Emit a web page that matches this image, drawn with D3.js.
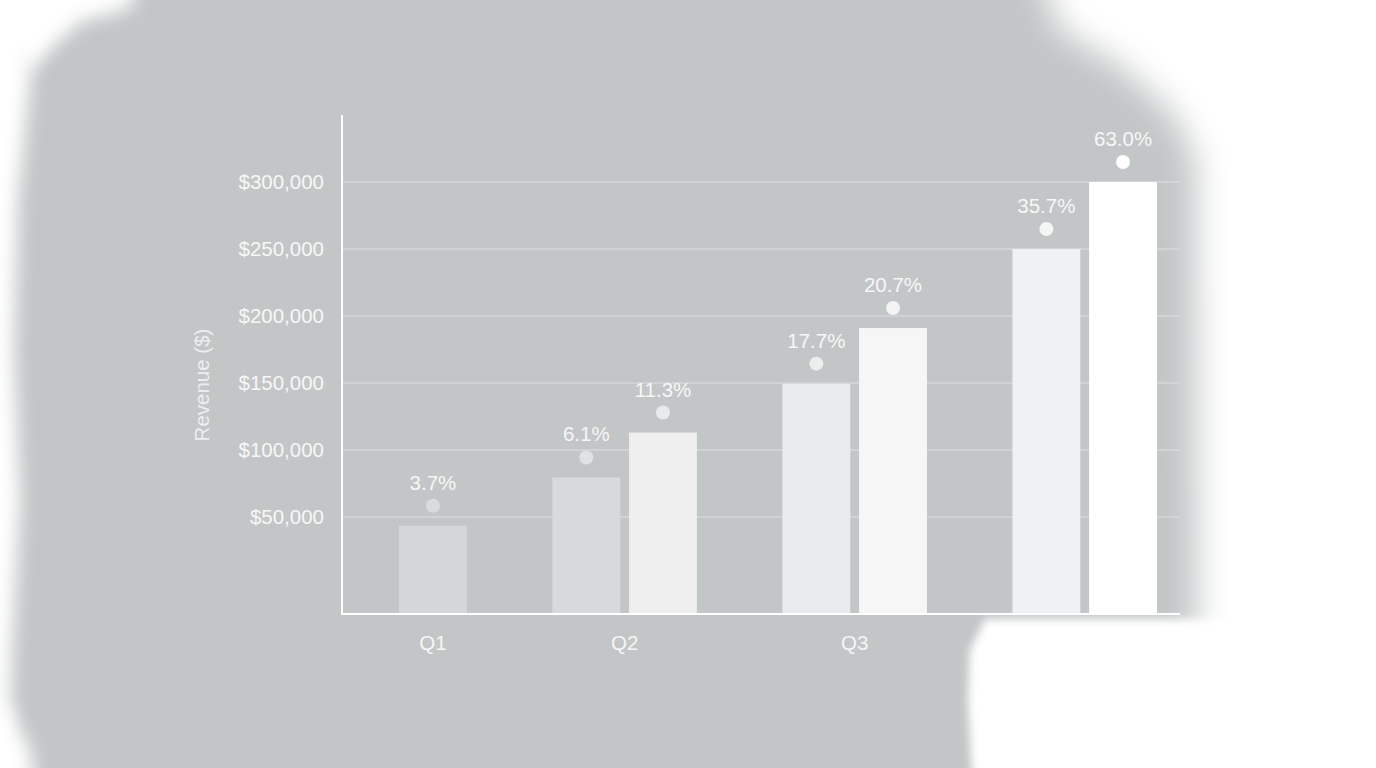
<!DOCTYPE html>
<html>
<head>
<meta charset="utf-8">
<script src="https://cdn.jsdelivr.net/npm/d3@7"></script>
<style>
  html, body { margin: 0; padding: 0; background: #ffffff; overflow: hidden; }
  #chart { width: 1376px; height: 768px; }
  text { font-family: "Liberation Sans", Arial, Helvetica, sans-serif; }
</style>
</head>
<body>
<div id="chart"></div>
<script>
// Chart data
var quarters = ["Q1", "Q2", "Q3", "Q4"];
var barQuarter = ["Q1", "Q2", "Q2", "Q3", "Q3", "Q4", "Q4"];
var revenue = [43500, 79500, 113000, 149500, 191000, 250000, 300000];
var growth = [3.7, 6.1, 11.3, 17.7, 20.7, 35.7, 63.0];
var yTicks = [50000, 100000, 150000, 200000, 250000, 300000];

// Styles per bar (they get lighter toward the right)
var barFill = ["#d3d7d8", "#d6dadb", "#efefef", "#e8ebec", "#f6f6f6", "#eff2f2", "#ffffff"];
var dotFill = ["#d9dcdd", "#dfe1e2", "#e9eaeb", "#eceeee", "#f3f3f3", "#f4f5f5", "#ffffff"];

var width = 1376, height = 768;
var plot = { left: 342, right: 1180, top: 115, bottom: 614 };

var svg = d3.select("#chart")
    .append("svg")
    .attr("width", width)
    .attr("height", height);

// Background: grey sheet with soft white brushed edges
var defs = svg.append("defs");
[["soft", 16], ["softer", 9], ["tight", 4]].forEach(function (f) {
    defs.append("filter").attr("id", f[0])
        .attr("filterUnits", "userSpaceOnUse")
        .attr("x", -100).attr("y", -100).attr("width", width + 200).attr("height", height + 200)
        .append("feGaussianBlur").attr("stdDeviation", f[1]);
});

svg.append("rect")
    .attr("width", width).attr("height", height)
    .attr("fill", "#c3c6c7");

var bgLine = d3.line();
var whiteShapes = [
    // right side
    { blur: "soft", pts: [[1030, -60], [1440, -60], [1440, 830], [1196, 830], [1197, 560], [1196, 160],
        [1175, 115], [1120, 65], [1060, 30]] },
    // bottom right, below the axis
    { blur: "tight", pts: [[985, 619], [1440, 619], [1440, 830], [975, 830], [968, 700], [970, 650]] },
    // left edge
    { blur: "softer", pts: [[-60, -60], [40, -60], [30, 80], [18, 200], [14, 350], [20, 500], [12, 650],
        [10, 720], [-60, 830]] },
    // top-left corner
    { blur: "softer", pts: [[-60, -60], [150, -60], [130, 8], [80, 22], [55, 45], [30, 70]] },
    // bottom-left corner
    { blur: "softer", pts: [[-60, 720], [8, 705], [30, 750], [40, 830], [-60, 830]] }
];
svg.append("g")
    .selectAll("path")
    .data(whiteShapes)
    .enter().append("path")
    .attr("d", function (d) { return bgLine(d.pts) + "Z"; })
    .attr("fill", "#ffffff")
    .attr("filter", function (d) { return "url(#" + d.blur + ")"; });

// Scales
var slots = [];
quarters.forEach(function (q, i) {
    if (i > 0) slots.push("gap" + i);
    barQuarter.forEach(function (bq, j) {
        if (bq === q) slots.push("b" + j);
    });
});

var x = d3.scaleBand()
    .domain(slots)
    .range([399, 1157])
    .paddingInner(0.115)
    .paddingOuter(0);

var y = d3.scaleLinear()
    .domain([-22400, 350000])
    .range([plot.bottom, plot.top]);

// Gridlines
svg.append("g")
    .selectAll("line")
    .data(yTicks)
    .enter().append("line")
    .attr("x1", plot.left).attr("x2", plot.right)
    .attr("y1", function (d) { return y(d); })
    .attr("y2", function (d) { return y(d); })
    .attr("stroke", "#dcdfe0")
    .attr("stroke-width", 1.2);

// Y tick labels
var yAxis = svg.append("g")
    .attr("transform", "translate(" + plot.left + ",0)")
    .call(d3.axisLeft(y)
        .tickValues(yTicks)
        .tickSize(0)
        .tickPadding(18)
        .tickFormat(function (d) { return "$" + d3.format(",")(d); }));
yAxis.select(".domain").remove();
yAxis.selectAll("text")
    .attr("font-size", "20.5px")
    .attr("fill", "#f7f7f7")
    .style("font-family", "'Liberation Sans', Arial, sans-serif");

// Bars
var bars = revenue.map(function (v, i) {
    return { key: "b" + i, value: v, growth: growth[i], i: i };
});

svg.append("g")
    .selectAll("rect")
    .data(bars)
    .enter().append("rect")
    .attr("x", function (d) { return x(d.key); })
    .attr("width", x.bandwidth())
    .attr("y", function (d) { return y(d.value); })
    .attr("height", function (d) { return y(y.domain()[0]) - y(d.value); })
    .attr("fill", function (d) { return barFill[d.i]; });

// Growth markers and labels
svg.append("g")
    .selectAll("circle")
    .data(bars)
    .enter().append("circle")
    .attr("cx", function (d) { return x(d.key) + x.bandwidth() / 2; })
    .attr("cy", function (d) { return y(d.value) - 20; })
    .attr("r", 7)
    .attr("fill", function (d) { return dotFill[d.i]; });

svg.append("g")
    .selectAll("text")
    .data(bars)
    .enter().append("text")
    .attr("x", function (d) { return x(d.key) + x.bandwidth() / 2; })
    .attr("y", function (d) { return y(d.value) - 36; })
    .attr("text-anchor", "middle")
    .attr("font-size", "20.5px")
    .attr("fill", "#f7f7f7")
    .text(function (d) { return d.growth.toFixed(1) + "%"; });

// Axis lines
svg.append("line")
    .attr("x1", plot.left).attr("x2", plot.left)
    .attr("y1", plot.top).attr("y2", plot.bottom)
    .attr("stroke", "#ffffff").attr("stroke-width", 2);
svg.append("line")
    .attr("x1", plot.left - 1).attr("x2", plot.right)
    .attr("y1", plot.bottom).attr("y2", plot.bottom)
    .attr("stroke", "#ffffff").attr("stroke-width", 2);

// Quarter labels, centred under each quarter's bars
function quarterCenter(q) {
    var centers = [];
    barQuarter.forEach(function (bq, j) {
        if (bq === q) centers.push(x("b" + j) + x.bandwidth() / 2);
    });
    return d3.mean(centers);
}

svg.append("g")
    .selectAll("text")
    .data(quarters)
    .enter().append("text")
    .attr("x", function (d) { return quarterCenter(d); })
    .attr("y", 650)
    .attr("text-anchor", "middle")
    .attr("font-size", "20.5px")
    .attr("fill", "#ffffff")
    .attr("fill-opacity", 0.85)
    .text(function (d) { return d; });

// Y axis title
svg.append("text")
    .attr("transform", "translate(209,385) rotate(-90)")
    .attr("text-anchor", "middle")
    .attr("font-size", "20.5px")
    .attr("fill", "#eeeeee")
    .text("Revenue ($)");
</script>
</body>
</html>
